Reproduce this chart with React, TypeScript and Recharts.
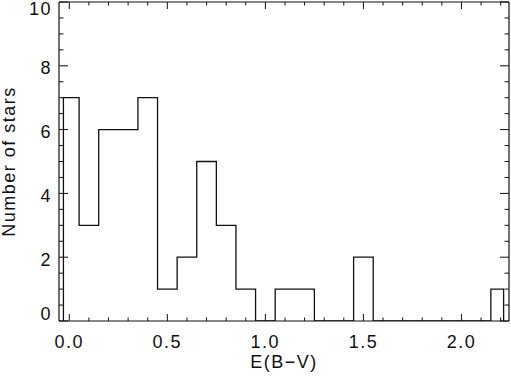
import { Line, LineChart, XAxis, YAxis } from 'recharts';

// histogram of E(B-V): bin edges (first/last bins are clipped) and star counts per bin
const binEdges = [
  -0.03, 0.05, 0.15, 0.25, 0.35, 0.45, 0.55, 0.65, 0.75, 0.85, 0.95, 1.05,
  1.15, 1.25, 1.35, 1.45, 1.55, 1.65, 1.75, 1.85, 1.95, 2.05, 2.15, 2.215,
];
const starCounts = [7, 3, 6, 6, 7, 1, 2, 5, 3, 1, 0, 1, 1, 0, 0, 2, 0, 0, 0, 0, 0, 0, 1];

const xTicks = [
  0, 0.1, 0.2, 0.3, 0.4, 0.5, 0.6, 0.7, 0.8, 0.9, 1.0, 1.1, 1.2, 1.3, 1.4, 1.5,
  1.6, 1.7, 1.8, 1.9, 2.0, 2.1, 2.2,
];
const yTicks = [
  0, 0.5, 1, 1.5, 2, 2.5, 3, 3.5, 4, 4.5, 5, 5.5, 6, 6.5, 7, 7.5, 8, 8.5, 9, 9.5, 10,
];

const X_DOMAIN: [number, number] = [-0.0525, 2.2425];
const Y_DOMAIN: [number, number] = [0, 10];
const INK = '#111';
const FONT = '"Liberation Sans", Arial, sans-serif';
const FONT_SIZE = 18;
const LETTER_SPACING = 1.5;

const isMajorX = (v: number) => Math.abs(v * 2 - Math.round(v * 2)) < 1e-6;
const isMajorY = (v: number) => Math.abs(v / 2 - Math.round(v / 2)) < 1e-6;

// step outline: rise at first edge, one point per bin, drop at last edge
const histData = [
  { x: binEdges[0], y: 0 },
  ...starCounts.map((c, i) => ({ x: binEdges[i], y: c })),
  { x: binEdges[binEdges.length - 1], y: 0 },
];

type TickProps = { x?: number; y?: number; payload?: { value: number } };

function BottomTick({ x = 0, y = 0, payload }: TickProps) {
  const v = payload?.value ?? 0;
  const major = isMajorX(v);
  return (
    <g>
      <line x1={x} x2={x} y1={y} y2={y - (major ? 7 : 3.5)} stroke={INK} strokeWidth={1} />
      {major && (
        <text x={x} y={y + 27} textAnchor="middle" fontSize={FONT_SIZE} fontFamily={FONT}
          letterSpacing={LETTER_SPACING} fill={INK}>
          {v.toFixed(1)}
        </text>
      )}
    </g>
  );
}

function TopTick({ x = 0, y = 0, payload }: TickProps) {
  const major = isMajorX(payload?.value ?? 0);
  return <line x1={x} x2={x} y1={y} y2={y + (major ? 7 : 3.5)} stroke={INK} strokeWidth={1} />;
}

function LeftTick({ x = 0, y = 0, payload }: TickProps) {
  const v = payload?.value ?? 0;
  const major = isMajorY(v);
  // labels sit a little below their tick; the end labels are pulled inside the frame
  const ly = Math.min(Math.max(y + 2.5, 9), 314);
  return (
    <g>
      <line x1={x} x2={x + (major ? 9 : 4.5)} y1={y} y2={y} stroke={INK} strokeWidth={1} />
      {major && (
        <text x={x - 7} y={ly} textAnchor="end" dominantBaseline="central" fontSize={FONT_SIZE}
          fontFamily={FONT} letterSpacing={LETTER_SPACING} fill={INK}>
          {String(v)}
        </text>
      )}
    </g>
  );
}

function RightTick({ x = 0, y = 0, payload }: TickProps) {
  const major = isMajorY(payload?.value ?? 0);
  return <line x1={x} x2={x - (major ? 9 : 4.5)} y1={y} y2={y} stroke={INK} strokeWidth={1} />;
}

type LabelVB = { viewBox?: { x: number; y: number; width: number; height: number } };

function XTitle({ viewBox }: LabelVB) {
  if (!viewBox) return null;
  return (
    <text x={viewBox.x + viewBox.width / 2} y={368} textAnchor="middle" fontSize={FONT_SIZE}
      fontFamily={FONT} letterSpacing={LETTER_SPACING} fill={INK}>
      E(B−V)
    </text>
  );
}

function YTitle({ viewBox }: LabelVB) {
  if (!viewBox) return null;
  const cy = viewBox.y + viewBox.height / 2;
  const cx = 9;
  return (
    <text x={cx} y={cy} transform={`rotate(-90 ${cx} ${cy})`} textAnchor="middle"
      dominantBaseline="central" fontSize={FONT_SIZE} fontFamily={FONT}
      letterSpacing={LETTER_SPACING} fill={INK}>
      Number of stars
    </text>
  );
}

const axisLine = { stroke: INK, strokeWidth: 1.2 };

export default function App() {
  return (
    <div style={{ position: 'absolute', left: 0, top: 0, width: 511, height: 376, background: '#fff' }}>
      <LineChart width={511} height={376} data={histData} margin={{ top: 1, right: 1, bottom: 0, left: 0 }}>
        <XAxis
          dataKey="x"
          type="number"
          domain={X_DOMAIN}
          allowDataOverflow
          ticks={xTicks}
          interval={0}
          height={55}
          tickSize={0}
          tickMargin={0}
          tickLine={false}
          axisLine={axisLine}
          tick={(p: TickProps) => <BottomTick {...p} />}
          label={{ content: (p: LabelVB) => <XTitle {...p} /> }}
        />
        <XAxis
          xAxisId="top"
          orientation="top"
          dataKey="x"
          type="number"
          domain={X_DOMAIN}
          allowDataOverflow
          ticks={xTicks}
          interval={0}
          height={1}
          tickSize={0}
          tickMargin={0}
          tickLine={false}
          axisLine={axisLine}
          tick={(p: TickProps) => <TopTick {...p} />}
        />
        <YAxis
          type="number"
          domain={Y_DOMAIN}
          allowDataOverflow
          ticks={yTicks}
          interval={0}
          width={59}
          tickSize={0}
          tickMargin={0}
          tickLine={false}
          axisLine={axisLine}
          tick={(p: TickProps) => <LeftTick {...p} />}
          label={{ content: (p: LabelVB) => <YTitle {...p} /> }}
        />
        <YAxis
          yAxisId="right"
          orientation="right"
          type="number"
          domain={Y_DOMAIN}
          allowDataOverflow
          ticks={yTicks}
          interval={0}
          width={1}
          tickSize={0}
          tickMargin={0}
          tickLine={false}
          axisLine={axisLine}
          tick={(p: TickProps) => <RightTick {...p} />}
        />
        <Line
          dataKey="y"
          type="stepAfter"
          stroke={INK}
          strokeWidth={1.3}
          dot={false}
          activeDot={false}
          isAnimationActive={false}
        />
      </LineChart>
    </div>
  );
}
